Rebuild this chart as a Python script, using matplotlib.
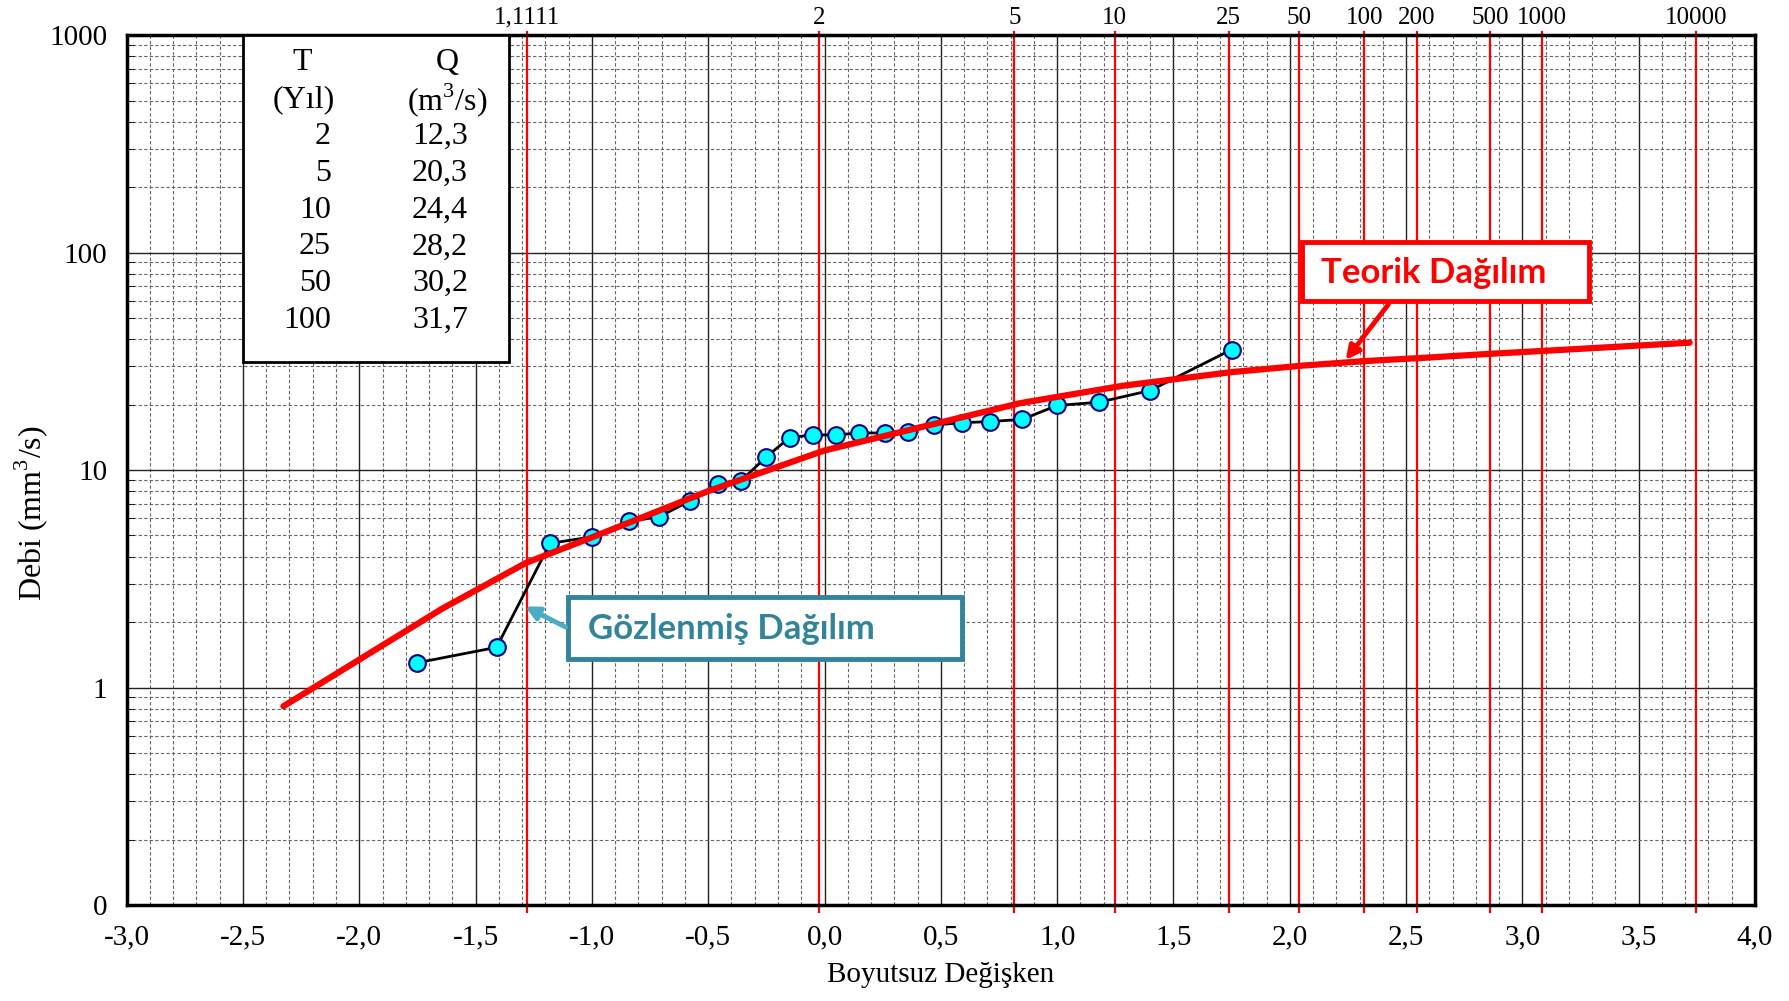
import matplotlib.pyplot as plt
import numpy as np
from matplotlib.patches import Rectangle
from matplotlib.ticker import FixedLocator, FixedFormatter, NullFormatter

plt.rcParams['font.family'] = ['Liberation Serif', 'DejaVu Serif']
plt.rcParams['mathtext.fontset'] = 'custom'
plt.rcParams['mathtext.rm'] = 'Liberation Serif'

# observed data (dimensionless variate vs discharge)
obs_z = [-1.75, -1.41, -1.18, -1.00, -0.84, -0.71, -0.58, -0.46, -0.36, -0.25,
         -0.15, -0.05, 0.05, 0.15, 0.26, 0.36, 0.47, 0.59, 0.71, 0.85,
         1.00, 1.18, 1.40, 1.75]
obs_q = [1.30, 1.53, 4.6, 4.93, 5.8, 6.1, 7.2, 8.6, 8.9, 11.5,
         14.1, 14.5, 14.5, 14.8, 14.8, 15.0, 16.1, 16.5, 16.7, 17.1,
         19.8, 20.5, 23.2, 35.8]

# theoretical distribution
teo_z = [-2.326, -1.645, -1.2816, -1.0, -0.5, 0.0, 0.8416, 1.2816, 1.751,
         2.054, 2.326, 2.576, 2.878, 3.090, 3.719]
teo_q = [0.82, 2.3, 3.75, 4.9, 8.0, 12.3, 20.3, 24.4, 28.2,
         30.2, 31.7, 32.8, 34.3, 35.3, 38.5]

# return period lines (as drawn in the figure)
rp_z = [-1.277, -0.023, 0.816, 1.248, 1.738, 2.040, 2.321, 2.545, 2.862, 3.085, 3.745]
rp_lbl = ['1,1111', '2', '5', '10', '25', '50', '100', '200', '500', '1000', '10000']

# table
tbl_T = ['2', '5', '10', '25', '50', '100']
tbl_Q = ['12,3', '20,3', '24,4', '28,2', '30,2', '31,7']

fig = plt.figure(figsize=(17.89, 10.01), dpi=100)
ax = fig.add_axes([0.0708, 0.0959, 0.9102, 0.8691])

ax.set_xlim(-3, 4)
ax.set_yscale('log')
ax.set_ylim(0.1, 1000)

# ticks and grid
xmaj = np.arange(-3, 4.01, 0.5)
ax.xaxis.set_major_locator(FixedLocator(xmaj))
ax.xaxis.set_major_formatter(FixedFormatter([f'{v:.1f}'.replace('.', ',') for v in xmaj]))
ax.xaxis.set_minor_locator(FixedLocator(np.arange(-3, 4.01, 0.1)))
ax.yaxis.set_major_locator(FixedLocator([0.1, 1, 10, 100, 1000]))
ax.yaxis.set_major_formatter(FixedFormatter(['0', '1', '10', '100', '1000']))
ax.yaxis.set_minor_formatter(NullFormatter())

ax.grid(which='major', color='#222222', lw=1.0)
ax.grid(which='minor', color='#666666', lw=0.8, ls=(0, (3, 2)))
ax.set_axisbelow(True)
ax.tick_params(axis='both', which='major', labelsize=21, length=0, pad=14)
ax.tick_params(axis='x', which='minor', length=0)
ax.tick_params(axis='y', which='minor', direction='in', length=5)
for s in ax.spines.values():
    s.set_linewidth(2.5)

# return period lines + labels on top
for z, lb in zip(rp_z, rp_lbl):
    ax.axvline(z, ymin=-0.008, ymax=1.004, color='red', lw=1.6, clip_on=False, zorder=2)
    ax.text(z, 1.007, lb, transform=ax.get_xaxis_transform(), ha='center', va='bottom',
            fontsize=18)

# data
ax.plot(obs_z, obs_q, color='black', lw=2, marker='o', ms=12,
        mfc='#00FFFF', mec='#000080', mew=1.5, zorder=4)
ax.plot(teo_z, teo_q, color='red', lw=4.5, solid_capstyle='round', zorder=5)

ax.set_xlabel('Boyutsuz Değişken', fontsize=21, labelpad=8)
ax.set_ylabel(r'Debi (mm$^{\mathregular{3}}$/s)', fontsize=23)
ax.yaxis.set_label_coords(-0.047, 0.45)

# table box
ax.add_patch(Rectangle((0.0715, 0.624), 0.1633, 0.376, transform=ax.transAxes,
                       fc='white', ec='black', lw=2, zorder=6))
y0, dy = 0.968, 0.0423
kw = dict(transform=ax.transAxes, va='center', fontsize=23, zorder=7)
ax.text(0.1077, y0, 'T', ha='center', **kw)
ax.text(0.1968, y0, 'Q', ha='center', **kw)
ax.text(0.1090, y0 - dy, '(Yıl)', ha='center', **kw)
ax.text(0.1968, y0 - dy, r'(m$^{\mathregular{3}}$/s)', ha='center', **kw)
for i, (t, q) in enumerate(zip(tbl_T, tbl_Q)):
    yy = y0 - (i + 2) * dy
    ax.text(0.1255, yy, t, ha='right', **kw)
    ax.text(0.1752, yy, q, ha='left', **kw)

# Teorik Dağılım label
ax.add_patch(Rectangle((0.7218, 0.694), 0.1762, 0.068, transform=ax.transAxes,
                       fc='white', ec='red', lw=3.5, zorder=6))
ax.text(0.7335, 0.727, 'Teorik Dağılım', transform=ax.transAxes, ha='left', va='center',
        fontsize=25, fontweight='bold', color='red', family='Lato', zorder=7)
ax.annotate('', xy=(2.233, 31.3), xycoords='data', xytext=(0.7759, 0.693),
            textcoords='axes fraction',
            arrowprops=dict(arrowstyle='-|>,head_length=0.8,head_width=0.4',
                            color='red', lw=3.5), zorder=7)

# Gözlenmiş Dağılım label
ax.add_patch(Rectangle((0.2711, 0.2828), 0.2419, 0.0712, transform=ax.transAxes,
                       fc='white', ec='#31849B', lw=3.5, zorder=6))
ax.text(0.2834, 0.317, 'Gözlenmiş Dağılım', transform=ax.transAxes, ha='left', va='center',
        fontsize=25, fontweight='bold', color='#31849B', family='Lato', zorder=7)
ax.annotate('', xy=(-1.298, 2.39), xycoords='data', xytext=(0.2711, 0.318),
            textcoords='axes fraction',
            arrowprops=dict(arrowstyle='-|>,head_length=0.8,head_width=0.4',
                            color='#4BACC6', lw=3.5), zorder=7)

fig.savefig('out.png', dpi=100)
